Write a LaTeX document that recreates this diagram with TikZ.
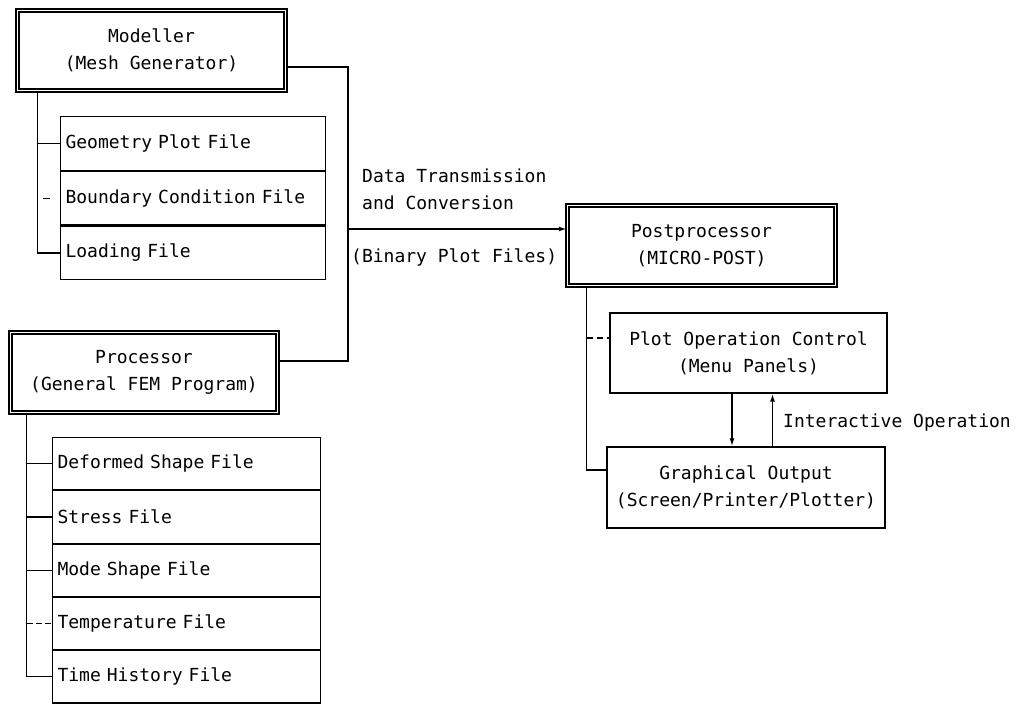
\documentclass[tikz,border=0pt]{standalone}
\usepackage{fontspec}
\setmonofont{DejaVu Sans Mono}
\usetikzlibrary{arrows.meta}
\begin{document}
\begin{tikzpicture}[x=1pt,y=-1pt,
  every node/.style={font=\ttfamily\fontsize{18}{27}\selectfont},
  mainbox/.style={draw, double, double distance=1.6pt, line width=1.5pt, align=center, minimum width=268pt, minimum height=80pt},
  plainbox/.style={draw, line width=1.3pt, align=center},
  filerow/.style={draw, line width=1.1pt, inner xsep=5pt, align=left, anchor=north},
  trunk/.style={line width=1.2pt},
  busline/.style={line width=1.5pt},
  arr/.style={line width=1.5pt, -{Latex[length=8pt,width=5pt]}},
  lbl/.style={anchor=west, align=left, inner sep=0pt}]
\useasboundingbox (0,0) rectangle (1022,708);

% main boxes
\node[mainbox] (modeller) at (151.5,50.5) {Modeller\\(Mesh Generator)};
\node[mainbox, minimum width=267pt] (processor) at (144,372.5) {Processor\\(General FEM Program)};
\node[mainbox] (post) at (701.5,245.5) {Postprocessor\\(MICRO-POST)};
\node[plainbox, minimum width=277pt, minimum height=80pt] (plot) at (748.5,353) {Plot Operation Control\\(Menu Panels)};
\node[plainbox, minimum width=278pt, minimum height=81pt] (graph) at (746,487.5) {Graphical Output\\(Screen/Printer/Plotter)};

% modeller files
\begin{scope}[every node/.append style={text width=255pt, minimum height=53.67pt}]
\node[filerow, anchor=north west] (m1) at (60,116) {Geometry Plot File};
\node[filerow] (m2) at (m1.south) {Boundary Condition File};
\node[filerow] (m3) at (m2.south) {Loading File};
\end{scope}

% processor files
\begin{scope}[every node/.append style={text width=258pt, minimum height=52.2pt}]
\node[filerow, anchor=north west] (p1) at (52,437) {Deformed Shape File};
\node[filerow] (p2) at (p1.south) {Stress File};
\node[filerow] (p3) at (p2.south) {Mode Shape File};
\node[filerow] (p4) at (p3.south) {Temperature File};
\node[filerow] (p5) at (p4.south) {Time History File};
\end{scope}

% modeller tree
\draw[trunk] ([xshift=21pt]modeller.south west) coordinate (mt) |- (m3.west);
\draw[trunk] (mt |- m1.west) -- (m1.west);
\draw[trunk, dash pattern=on 0pt off 5pt on 7pt off 12pt] (mt |- m2.west) -- (m2.west);

% processor tree
\draw[trunk] ([xshift=17pt]processor.south west) coordinate (pt) |- (p5.west);
\draw[trunk] (pt |- p1.west) -- (p1.west);
\draw[trunk] (pt |- p2.west) -- (p2.west);
\draw[trunk] (pt |- p3.west) -- (p3.west);
\draw[trunk, dash pattern=on 6pt off 3pt] (pt |- p4.west) -- (p4.west);

% postprocessor tree
\draw[trunk] ([xshift=20pt]post.south west) coordinate (qt) |- ([yshift=17.5pt]graph.west);
\draw[trunk, dash pattern=on 6pt off 4pt] (qt |- 0,338) -- (plot.west |- 0,338);

% data bus
\coordinate (bj) at (348,229);
\draw[busline] ([yshift=-16.5pt]modeller.east) -| (bj) |- ([yshift=11.5pt]processor.east);
\draw[busline, -{Latex[length=8pt,width=5pt]}] (bj) -- (bj -| post.west);

% interactive arrows
\coordinate (d1) at ([xshift=-16.5pt]plot.south);
\coordinate (u1) at ([xshift=26.5pt]graph.north);
\draw[arr] (d1) -- (d1 |- graph.north);
\draw[arr] (u1) -- (u1 |- plot.south);

% labels
\node[lbl] (dtl) at (362,189) {Data Transmission\\and Conversion};
\node[lbl] (bpf) at (351,257) {(Binary Plot Files)};
\node[lbl] (iop) at (783,423) {Interactive Operation};
\end{tikzpicture}
\end{document}
